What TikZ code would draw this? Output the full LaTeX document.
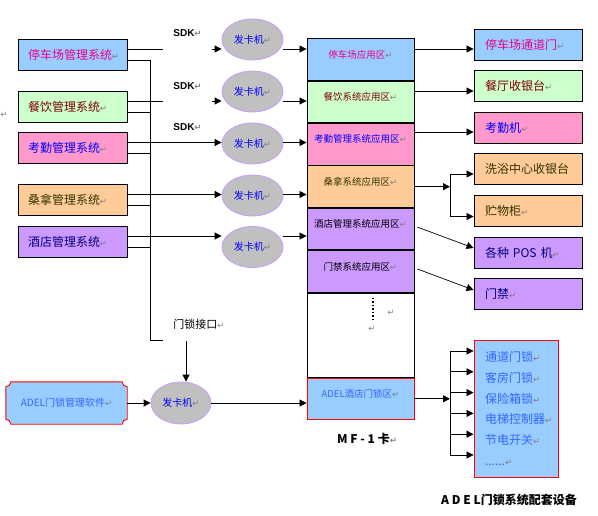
\documentclass[tikz,border=0pt]{standalone}
\usepackage{fontspec}
\setmainfont{Noto Sans CJK SC}
\newfontfamily\arialfont{Liberation Sans}
\newfontfamily\symfont{DejaVu Sans}
\usetikzlibrary{arrows.meta,positioning,shapes.geometric,backgrounds}
\definecolor{bluefill}{HTML}{99CCFF}
\definecolor{greenfill}{HTML}{CCFFCC}
\definecolor{pinkfill}{HTML}{FF99CC}
\definecolor{orangefill}{HTML}{FFCC99}
\definecolor{purplefill}{HTML}{CC99FF}
\definecolor{readergray}{HTML}{C0C0C0}
\definecolor{olivetext}{HTML}{333300}
\definecolor{adelblue}{HTML}{3366FF}
\definecolor{markgray}{HTML}{808080}
\newcommand{\crmark}{{\symfont\fontsize{8.5}{8.5}\selectfont\color{markgray}↵}}

\tikzset{
  arr/.style={-{Triangle[length=7pt,width=7pt]},line width=0.8pt},
  sysbox/.style={draw,line width=0.9pt,minimum height=31pt,text width=89pt,inner xsep=10pt,align=left,font=\fontsize{12}{14}\selectfont},
  devbox/.style={draw,line width=0.9pt,minimum height=31pt,text width=86pt,inner xsep=11pt,align=left,font=\fontsize{12}{14}\selectfont},
  cell/.style={draw,line width=0.9pt,minimum width=107pt,minimum height=41.5pt,inner sep=0pt},
  celltext/.style={font=\fontsize{9.5}{11}\selectfont,yshift=5pt},
  reader/.style={ellipse,draw=purplefill,line width=0.8pt,fill=readergray,minimum width=61pt,minimum height=41pt,inner sep=0pt,text=blue,font=\fontsize{10}{12}\selectfont},
  sdklabel/.style={minimum width=49pt,inner sep=0pt,font=\arialfont\bfseries\fontsize{10}{12}\selectfont}
}

\begin{document}
\begin{tikzpicture}[x=1pt,y=-1pt]
\useasboundingbox (0,0) rectangle (598,516);

% systems on the left
\node[sysbox,fill=bluefill,text=magenta] (park) at (72.5,54.5) {停车场管理系统\crmark};
\node[sysbox,fill=greenfill,text={rgb,255:red,128;green,0;blue,0}] (food) at (72.5,106.5) {餐饮管理系统\crmark};
\node[sysbox,fill=pinkfill,text=blue] (attend) at (72.5,148) {考勤管理系统\crmark};
\node[sysbox,fill=orangefill,text=olivetext] (sauna) at (72.5,200) {桑拿管理系统\crmark};
\node[sysbox,fill=purplefill,text={rgb,255:red,0;green,0;blue,128}] (hotel) at (72.5,241.5) {酒店管理系统\crmark};
\node at (4,115) {\crmark};

% card readers
\node[reader] (rd1) at (252.5,39.5) {发卡机\crmark};
\node[reader] (rd2) at (252.5,91.5) {发卡机\crmark};
\node[reader] (rd3) at (252.5,143.5) {发卡机\crmark};
\node[reader] (rd4) at (252.5,195.5) {发卡机\crmark};
\node[reader] (rd5) at (252.5,247) {发卡机\crmark};

\node[sdklabel] (sdk1) at (187.5,33) {SDK\crmark};
\node[sdklabel] (sdk2) at (187.5,86) {SDK\crmark};
\node[sdklabel] (sdk3) at (187.5,127) {SDK\crmark};

% MF-1 card zones
\node[cell,fill=bluefill,label={[celltext,text=magenta]center:停车场应用区\crmark}] (zpark) at (360.5,59.5) {};
\node[cell,fill=greenfill,below=0pt of zpark,label={[celltext,text={rgb,255:red,128;green,0;blue,0}]center:餐饮系统应用区\crmark}] (zfood) {};
\node[cell,fill=pinkfill,below=0pt of zfood,label={[celltext,text=blue]center:考勤管理系统应用区\crmark}] (zattend) {};
\node[cell,fill=orangefill,below=0pt of zattend,label={[celltext,text=olivetext]center:桑拿系统应用区\crmark}] (zsauna) {};
\node[cell,fill=purplefill,below=0pt of zsauna,label={[celltext]center:酒店管理系统应用区\crmark}] (zhotel) {};
\node[cell,fill=purplefill,below=0pt of zhotel,label={[celltext]center:门禁系统应用区\crmark}] (zdoor) {};
\node[cell,fill=white,minimum height=84pt,below=0pt of zdoor] (zfree) {};
\node[cell,draw=red,fill=bluefill,below=0pt of zfree,label={[celltext,text=adelblue]center:ADEL酒店门锁区\crmark}] (zadel) {};
\draw[line width=1.3pt,dash pattern=on 1.5pt off 2pt] (373,298) -- (373,322);
\node at (391,313) {\crmark};
\node at (372,329) {\crmark};
\node[font=\bfseries\fontsize{12}{14}\selectfont] (mfcard) at (367,439) {M F - 1 卡\crmark};

% devices on the right
\node[devbox,fill=bluefill,text=magenta] (gate) at (528,44.5) {停车场通道门\crmark};
\node[devbox,fill=greenfill,text={rgb,255:red,128;green,0;blue,0}] (cashier) at (528,86) {餐厅收银台\crmark};
\node[devbox,fill=pinkfill,text=blue] (clock) at (528,128) {考勤机\crmark};
\node[devbox,fill=orangefill,text=olivetext] (bathcash) at (528,169) {洗浴中心收银台};
\node[devbox,fill=orangefill,text=olivetext] (locker) at (528,211) {贮物柜\crmark};
\node[devbox,fill=purplefill,text={rgb,255:red,0;green,0;blue,128}] (pos) at (528,252.5) {各种 POS 机\crmark};
\node[devbox,fill=purplefill,text={rgb,255:red,0;green,0;blue,128}] (door) at (528,293.5) {门禁\crmark};
\node[draw=red,line width=0.9pt,fill=bluefill,text=adelblue,minimum width=84pt,minimum height=137pt,text width=62pt,inner xsep=11pt,align=left,font=\fontsize{12}{20.8}\selectfont] (kit) at (516,408.5)
  {通道门锁\crmark\\客房门锁\crmark\\保险箱锁\crmark\\电梯控制器\crmark\\节电开关\crmark\\......\crmark};
\node[font=\bfseries\fontsize{12}{14}\selectfont] (kitname) at (509,500) {A D E L门锁系统配套设备};

% door lock software
\node[text=adelblue,minimum width=121pt,minimum height=42pt,inner sep=0pt,font=\fontsize{10}{12}\selectfont] (soft) at (66.5,403) {ADEL门锁管理软件\crmark};
\begin{scope}[on background layer]
\filldraw[draw=red,line width=0.9pt,fill=bluefill]
  ([xshift=5pt]soft.north west) -- ([xshift=-5pt]soft.north east)
  arc[start angle=180,end angle=270,radius=5pt] -- ([yshift=5pt]soft.south east)
  arc[start angle=90,end angle=180,radius=5pt] -- ([xshift=5pt]soft.south west)
  arc[start angle=0,end angle=90,radius=5pt] -- ([yshift=-5pt]soft.north west)
  arc[start angle=270,end angle=360,radius=5pt] -- cycle;
\end{scope}
\node[reader,minimum width=60pt,minimum height=42pt] (rd6) at (181,403) {发卡机\crmark};
\node[font=\fontsize{11}{13}\selectfont] (lockport) at (199,324) {门锁接口\crmark};

% rows
\coordinate (r1) at ([yshift=5.5pt]park.east);
\coordinate (r2) at ([yshift=5.5pt]food.east);
\coordinate (r3) at ([yshift=5.5pt]attend.east);
\coordinate (r4) at ([yshift=5.5pt]sauna.east);
\coordinate (r5) at ([yshift=5.5pt]hotel.east);
\draw[line width=0.8pt] (r1) -- (r1 -| sdk1.west);
\draw[arr] (r1 -| sdk1.east) -- (r1 -| rd1.west);
\draw[line width=0.8pt] (r2) -- (r2 -| sdk2.west);
\draw[arr] (r2 -| sdk2.east) -- (r2 -| rd2.west);
\draw[arr] (r3) -- (r3 -| rd3.west);
\draw[arr] (r4) -- (r4 -| rd4.west);
\draw[arr] (r5) -- (r5 -| rd5.west);
\draw[arr] (r1 -| rd1.east) -- (r1 -| zpark.west);
\draw[arr] (r2 -| rd2.east) -- (r2 -| zfood.west);
\draw[arr] (r3 -| rd3.east) -- (r3 -| zattend.west);
\draw[arr] (r4 -| rd4.east) -- (r4 -| zsauna.west);
\draw[arr] (r5 -| rd5.east) -- (r5 -| zhotel.west);

% bus to the lock interface
\coordinate (bus) at (150,340);
\coordinate (busend) at (163,340);
\draw[line width=0.8pt] ([yshift=-5.5pt]park.east) -| (bus) -- (busend);
\foreach \n in {food,attend,sauna,hotel}
  \draw[line width=0.8pt] ([yshift=-5.5pt]\n.east) -- ++(23,0);
\coordinate (lockout) at (186,341);
\draw[arr] (lockout) -- (lockout |- rd6.north);
\draw[arr] (soft.east) -- (rd6.west);
\draw[arr] (rd6.east) -- (rd6.east -| zadel.west);

% zones to devices
\coordinate (q1) at ([yshift=-4.5pt]gate.west);
\coordinate (q2) at ([yshift=-5pt]cashier.west);
\coordinate (q3) at ([yshift=-4pt]clock.west);
\draw[arr] (q1 -| zpark.east) -- (q1);
\draw[arr] (q2 -| zfood.east) -- (q2);
\draw[arr] (q3 -| zattend.east) -- (q3);
\coordinate (fk) at (450,0);
\coordinate (q4) at ([yshift=-5pt]bathcash.west);
\coordinate (q5) at ([yshift=-5.5pt]locker.west);
\draw[arr] (zsauna.east) -- (zsauna.east -| fk);
\draw[line width=0.8pt] (q4 -| fk) -- (q5 -| fk);
\draw[arr] (q4 -| fk) -- (q4);
\draw[arr] (q5 -| fk) -- (q5);
\draw[arr,line width=0.7pt] ([shift={(3pt,2pt)}]zhotel.east) -- ([yshift=4.5pt]pos.west);
\draw[arr,line width=0.7pt] ([shift={(3pt,2.5pt)}]zdoor.east) -- ([yshift=3.5pt]door.west);
\draw[arr] (zadel.east) -- (zadel.east -| fk);
\foreach \k in {0,...,5} {
  \coordinate (a\k) at ([yshift={57.5pt-20.8pt*\k}]kit.west);
  \draw[arr] (a\k -| fk) -- (a\k);
}
\draw[line width=0.8pt] (a0 -| fk) -- (a5 -| fk);
\end{tikzpicture}
\end{document}
